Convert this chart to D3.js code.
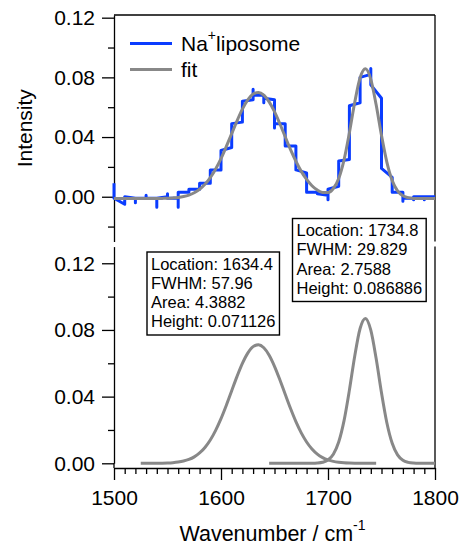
<!DOCTYPE html>
<html>
<head>
<meta charset="utf-8">
<script src="https://cdn.jsdelivr.net/npm/d3@7/dist/d3.min.js"></script>
<style>
  html, body { margin: 0; padding: 0; background: #fff; }
  svg { display: block; font-family: "Liberation Sans", Arial, Helvetica, sans-serif; }
</style>
</head>
<body>
<svg id="chart" width="470" height="547"></svg>
<script>
// ---------------- DATA ----------------
// Measured spectrum (Na+ liposome), vertices of the stepped trace
const dataWn = [1500,1500,1510,1510,1520,1520,1520,1530,1530,1530,1540,1540,1540,1550,1550,1550,1560,1560,1560,
  1570,1570,1580,1580,1590,1590,1600,1600,1610,1610,1620,1620,1630,1630,1630,1640,1640,1640,1650,1650,1650,
  1660,1660,1670,1670,1680,1680,1690,1690,1700,1700,1700,1710,1710,1720,1720,1730,1730,1740,1740,1740,
  1750,1750,1760,1760,1770,1770,1770,1780,1780,1780,1790,1790,1790,1800];
const dataIntensity = [0.009,-0.001,-0.005,0.000,-0.001,-0.004,-0.001,-0.001,0.001,-0.001,-0.001,-0.007,-0.001,0.000,0.002,-0.001,-0.001,-0.007,0.003,
  0.003,0.005,0.005,0.009,0.009,0.018,0.018,0.031,0.033,0.049,0.050,0.064,0.065,0.072,0.068,0.068,0.063,0.066,0.065,0.046,0.049,
  0.049,0.034,0.034,0.018,0.016,0.003,0.003,0.002,0.001,-0.002,0.005,0.007,0.024,0.025,0.061,0.063,0.080,0.082,0.086,0.075,
  0.066,0.019,0.013,0.003,0.003,-0.003,-0.001,-0.001,-0.002,0.000,0.000,-0.002,0.000,0.000];

// Common wavenumber grid for the fitted curves
const gridWn = [1500,1505,1510,1515,1520,1525,1530,1535,1540,1545,1550,1555,1560,1565,1570,1575,1580,1585,1590,1595,
  1600,1605,1610,1615,1620,1625,1630,1635,1640,1645,1650,1655,1660,1665,1670,1675,1680,1685,1690,1695,
  1700,1705,1710,1715,1720,1725,1730,1735,1740,1745,1750,1755,1760,1765,1770,1775,1780,1785,1790,1795,1800];
// Total fit
const fitValues = [-0.0012,-0.0012,-0.0012,-0.0012,-0.0012,-0.0012,-0.0012,-0.0012,-0.0012,-0.0011,-0.0010,-0.0008,-0.0005,0.0001,0.0011,0.0027,0.0050,0.0083,0.0128,0.0186,
  0.0256,0.0337,0.0423,0.0509,0.0587,0.0649,0.0688,0.0699,0.0681,0.0636,0.0570,0.0489,0.0402,0.0316,0.0238,0.0170,0.0116,0.0074,0.0045,0.0029,
  0.0028,0.0055,0.0122,0.0247,0.0429,0.0633,0.0797,0.0857,0.0787,0.0616,0.0411,0.0232,0.0108,0.0039,0.0006,-0.0006,-0.0011,-0.0012,-0.0012,-0.0012,-0.0012];
// Peak components (null = not drawn)
const peak1Values = [null,null,null,null,null,0.00000,0.00001,0.00002,0.00005,0.00010,0.00020,0.00039,0.00074,0.00134,0.00232,0.00387,0.00619,0.00950,0.01398,0.01976,
  0.02678,0.03485,0.04352,0.05213,0.05994,0.06612,0.06999,0.07111,0.06931,0.06482,0.05818,0.05011,0.04141,0.03284,0.02499,0.01824,0.01278,0.00859,0.00554,0.00343,
  0.00204,0.00116,0.00064,0.00033,0.00017,0.00008,0.00004,0.00002,0.00001,0.00000,null,null,null,null,null,null,null,null,null,null,null];
const peak2Values = [null,null,null,null,null,null,null,null,null,null,null,null,null,null,null,null,null,null,null,null,
  null,null,null,null,null,null,null,null,null,0,0,0,0,0,0,0,0.00001,0.00004,0.00017,0.00062,
  0.00200,0.00546,0.01278,0.02561,0.04390,0.06442,0.08087,0.08688,0.07987,0.06283,0.04230,0.02436,0.01201,0.00507,0.00183,0.00057,0.00015,0.00003,0.00001,0,0];

const peakLabels = [
  ["Location: 1634.4", "FWHM: 57.96", "Area: 4.3882", "Height: 0.071126"],
  ["Location: 1734.8", "FWHM: 29.829", "Area: 2.7588", "Height: 0.086886"]
];

const xTicks = [1500, 1600, 1700, 1800];
const xMinorTicks = [1510,1520,1530,1540,1550,1560,1570,1580,1590,1610,1620,1630,1640,1650,1660,1670,1680,1690,
  1710,1720,1730,1740,1750,1760,1770,1780,1790];
const yTicks = [0.00, 0.04, 0.08, 0.12];
const yMinorTop = [-0.02, 0.02, 0.06, 0.10];
const yMinorBottom = [0.02, 0.06, 0.10];

const seriesNames = ["liposome", "fit"];
const xTitle = "Wavenumber / cm";
const yTitle = "Intensity";

// ---------------- LAYOUT ----------------
const svg = d3.select("#chart");
const FONT = "'Liberation Sans', Arial, Helvetica, sans-serif";
const BLUE = "#0a3cff", GRAY = "#888888";
const left = 114, right = 435;

const x = d3.scaleLinear().domain([1500, 1800]).range([left, right]);
const yTop = d3.scaleLinear().domain([-0.03, 0.1218]).range([241.5, 15]);
const yBot = d3.scaleLinear().domain([0, 0.13]).range([463.3, 246.6]);

function styleAxis(g, fs) {
  g.selectAll(".domain").attr("stroke", "#000").attr("stroke-width", 1.3);
  g.selectAll(".tick line").attr("stroke", "#000").attr("stroke-width", 1.3);
  g.selectAll(".tick text").attr("fill", "#000").style("font-size", fs + "px").style("font-family", FONT);
}

// ---- Top panel axes ----
const gTopMinor = svg.append("g").attr("transform", `translate(${left},0)`)
  .call(d3.axisLeft(yTop).tickValues(yMinorTop).tickSize(6).tickFormat(""));
gTopMinor.select(".domain").remove();
styleAxis(gTopMinor, 21);
const gTop = svg.append("g").attr("transform", `translate(${left},0)`)
  .call(d3.axisLeft(yTop).tickValues(yTicks).tickSize(12).tickSizeOuter(0).tickPadding(7).tickFormat(d3.format(".2f")));
styleAxis(gTop, 21);
// frame top & right
svg.append("line").attr("x1", left).attr("x2", right).attr("y1", yTop.range()[1]).attr("y2", yTop.range()[1])
  .attr("stroke", "#000").attr("stroke-width", 1.3);
svg.append("line").attr("x1", right).attr("x2", right).attr("y1", yTop.range()[1]).attr("y2", yTop.range()[0])
  .attr("stroke", "#000").attr("stroke-width", 1.3);

// ---- Bottom panel axes ----
const xAxisY = 468;
const gBotMinor = svg.append("g").attr("transform", `translate(${left},0)`)
  .call(d3.axisLeft(yBot).tickValues(yMinorBottom).tickSize(6).tickFormat(""));
gBotMinor.select(".domain").remove();
styleAxis(gBotMinor, 21);
const gBot = svg.append("g").attr("transform", `translate(${left},0)`)
  .call(d3.axisLeft(yBot).tickValues(yTicks).tickSize(12).tickSizeOuter(0).tickPadding(7).tickFormat(d3.format(".2f")));
styleAxis(gBot, 21);
// extend left axis to x-axis
svg.append("line").attr("x1", left).attr("x2", left).attr("y1", yBot(0)).attr("y2", xAxisY)
  .attr("stroke", "#000").attr("stroke-width", 1.3);
svg.append("line").attr("x1", right).attr("x2", right).attr("y1", yBot.range()[1]).attr("y2", xAxisY)
  .attr("stroke", "#000").attr("stroke-width", 1.3);

const gXMinor = svg.append("g").attr("transform", `translate(0,${xAxisY})`)
  .call(d3.axisBottom(x).tickValues(xMinorTicks).tickSize(6).tickFormat(""));
gXMinor.select(".domain").remove();
styleAxis(gXMinor, 21);
const gX = svg.append("g").attr("transform", `translate(0,${xAxisY})`)
  .call(d3.axisBottom(x).tickValues(xTicks).tickSize(12).tickSizeOuter(0).tickPadding(10).tickFormat(d3.format("d")));
styleAxis(gX, 21);

// ---- Titles ----
const xt = svg.append("text").attr("x", (left + right) / 2 - 2).attr("y", 541)
  .attr("text-anchor", "middle").style("font-size", "21.5px").style("font-family", FONT).attr("fill", "#000");
xt.append("tspan").text(xTitle);
xt.append("tspan").text("-1").style("font-size", "14px").attr("dy", -11);

svg.append("text").attr("transform", `translate(32,${(yTop.range()[0] + yTop.range()[1]) / 2}) rotate(-90)`)
  .attr("text-anchor", "middle").style("font-size", "21px").style("font-family", FONT).attr("fill", "#000")
  .text(yTitle);

// ---- Top panel data ----
const topPts = dataWn.map((w, i) => [w, dataIntensity[i]]);
svg.append("path").datum(topPts)
  .attr("d", d3.line().x(d => x(d[0])).y(d => yTop(d[1])))
  .attr("fill", "none").attr("stroke", BLUE).attr("stroke-width", 3).attr("stroke-linejoin", "round");

const fitPts = gridWn.map((w, i) => [w, fitValues[i]]);
svg.append("path").datum(fitPts)
  .attr("d", d3.line().x(d => x(d[0])).y(d => yTop(d[1])).curve(d3.curveMonotoneX))
  .attr("fill", "none").attr("stroke", GRAY).attr("stroke-width", 3);

// ---- Legend ----
const legendItems = [{ name: seriesNames[0], color: BLUE }, { name: seriesNames[1], color: GRAY }];
const lg = svg.append("g");
legendItems.forEach((it, i) => {
  const cy = 43.5 + i * 26;
  lg.append("line").attr("x1", 130).attr("x2", 172).attr("y1", cy).attr("y2", cy)
    .attr("stroke", it.color).attr("stroke-width", 3);
  const t = lg.append("text").attr("x", 181).attr("y", cy + 7.5)
    .style("font-size", "21px").style("font-family", FONT).attr("fill", "#000");
  if (i === 0) {
    t.append("tspan").text("Na");
    t.append("tspan").text("+").style("font-size", "14px").attr("dy", -11);
    t.append("tspan").text(it.name).attr("dy", 11);
  } else {
    t.text(it.name);
  }
});

// ---- Bottom panel components ----
[peak1Values, peak2Values].forEach(vals => {
  const pts = gridWn.map((w, i) => [w, vals[i]]);
  svg.append("path").datum(pts)
    .attr("d", d3.line().defined(d => d[1] !== null).x(d => x(d[0])).y(d => yBot(d[1])).curve(d3.curveMonotoneX))
    .attr("fill", "none").attr("stroke", GRAY).attr("stroke-width", 3);
});

// ---- Annotation boxes ----
const boxPos = [{ x: 147, y: 252 }, { x: 292.5, y: 218.5 }];
peakLabels.forEach((lines, k) => {
  const g = svg.append("g");
  const rect = g.append("rect").attr("x", boxPos[k].x).attr("y", boxPos[k].y)
    .attr("fill", "#fff").attr("stroke", "#000").attr("stroke-width", 1.4);
  const texts = lines.map((s, j) => g.append("text")
    .attr("x", boxPos[k].x + 4).attr("y", boxPos[k].y + 17.5 + j * 19.3)
    .style("font-size", "16.5px").style("font-family", FONT).attr("fill", "#000").text(s));
  const w = d3.max(texts, t => t.node().getComputedTextLength());
  rect.attr("width", w + 8).attr("height", 83);
});
</script>
</body>
</html>
